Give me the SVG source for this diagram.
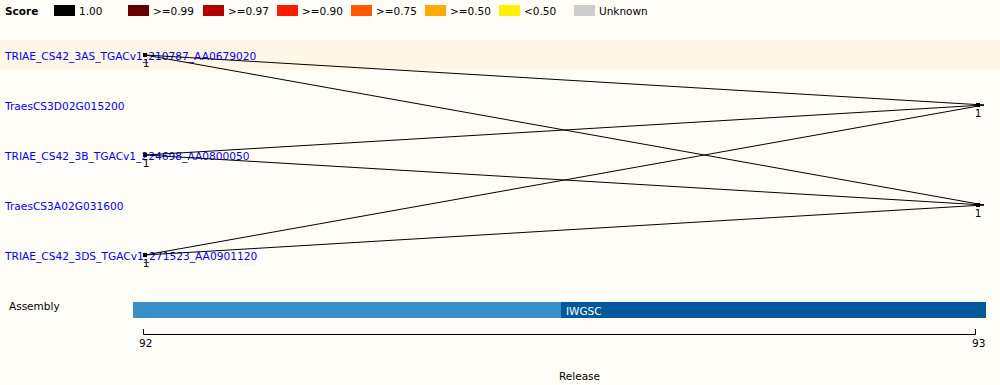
<svg xmlns="http://www.w3.org/2000/svg" width="1000" height="385" viewBox="0 0 1000 385">
<style>
text{font-family:"DejaVu Sans",Verdana,sans-serif;font-size:10.5px;fill:#000}
.lbl{fill:#0000ff;font-size:10.65px}
.bold{font-weight:bold}
.w{fill:#ffffff}
.c{text-anchor:middle}
.conn line{stroke:#000;stroke-width:1}
</style>
<rect x="0" y="0" width="1000" height="385" fill="#fffdf8"/>
<rect x="0" y="40" width="1000" height="30" fill="#fef7e8"/>
<g id="legend">
<text class="bold" x="5" y="15">Score</text>
<rect x="54" y="5" width="21" height="11" fill="#000000"/><text x="79" y="15">1.00</text>
<rect x="128" y="5" width="21" height="11" fill="#660000"/><text x="153" y="15">&gt;=0.99</text>
<rect x="203" y="5" width="21" height="11" fill="#b30000"/><text x="228" y="15">&gt;=0.97</text>
<rect x="277" y="5" width="21" height="11" fill="#ff1a00"/><text x="302" y="15">&gt;=0.90</text>
<rect x="351" y="5" width="21" height="11" fill="#ff5a00"/><text x="376" y="15">&gt;=0.75</text>
<rect x="425" y="5" width="21" height="11" fill="#ffaa00"/><text x="450" y="15">&gt;=0.50</text>
<rect x="499" y="5" width="21" height="11" fill="#fff200"/><text x="524" y="15">&lt;0.50</text>
<rect x="574" y="5" width="21" height="11" fill="#cccccc"/><text x="599" y="15">Unknown</text>
</g>
<g id="labels">
<text class="lbl" x="5" y="60">TRIAE_CS42_3AS_TGACv1_210787_AA0679020</text>
<text class="lbl" x="5" y="110">TraesCS3D02G015200</text>
<text class="lbl" x="5" y="160">TRIAE_CS42_3B_TGACv1_224698_AA0800050</text>
<text class="lbl" x="5" y="210">TraesCS3A02G031600</text>
<text class="lbl" x="5" y="260">TRIAE_CS42_3DS_TGACv1_271523_AA0901120</text>
</g>
<g id="connectors" class="conn">
<line x1="145" y1="55" x2="984" y2="105"/>
<line x1="145" y1="55" x2="984" y2="205"/>
<line x1="145" y1="155" x2="984" y2="105"/>
<line x1="145" y1="155" x2="984" y2="205"/>
<line x1="145" y1="255" x2="984" y2="105"/>
<line x1="145" y1="255" x2="984" y2="205"/>
</g>
<g id="node-3AS"><rect x="143" y="53" width="4" height="4" fill="#000"/><text class="c" x="146" y="67">1</text></g>
<g id="node-3B"><rect x="143" y="153" width="4" height="4" fill="#000"/><text class="c" x="146" y="167">1</text></g>
<g id="node-3DS"><rect x="143" y="253" width="4" height="4" fill="#000"/><text class="c" x="146" y="267">1</text></g>
<g id="node-3D"><rect x="976" y="103" width="4" height="4" fill="#000"/><text class="c" x="978" y="117">1</text></g>
<g id="node-3A"><rect x="976" y="203" width="4" height="4" fill="#000"/><text class="c" x="978" y="217">1</text></g>
<g id="assembly">
<text x="9" y="310">Assembly</text>
<rect x="133" y="302" width="428" height="16" fill="#388fc9"/>
<rect x="561" y="302" width="425" height="16" fill="#03599c"/>
<text class="w" x="566" y="315">IWGSC</text>
</g>
<g id="axis">
<path d="M143.5 329V334.5H975.5V329" fill="none" stroke="#000" stroke-width="1"/>
<text x="139" y="347">92</text>
<text x="972" y="347">93</text>
<text x="559" y="380">Release</text>
</g>
</svg>
